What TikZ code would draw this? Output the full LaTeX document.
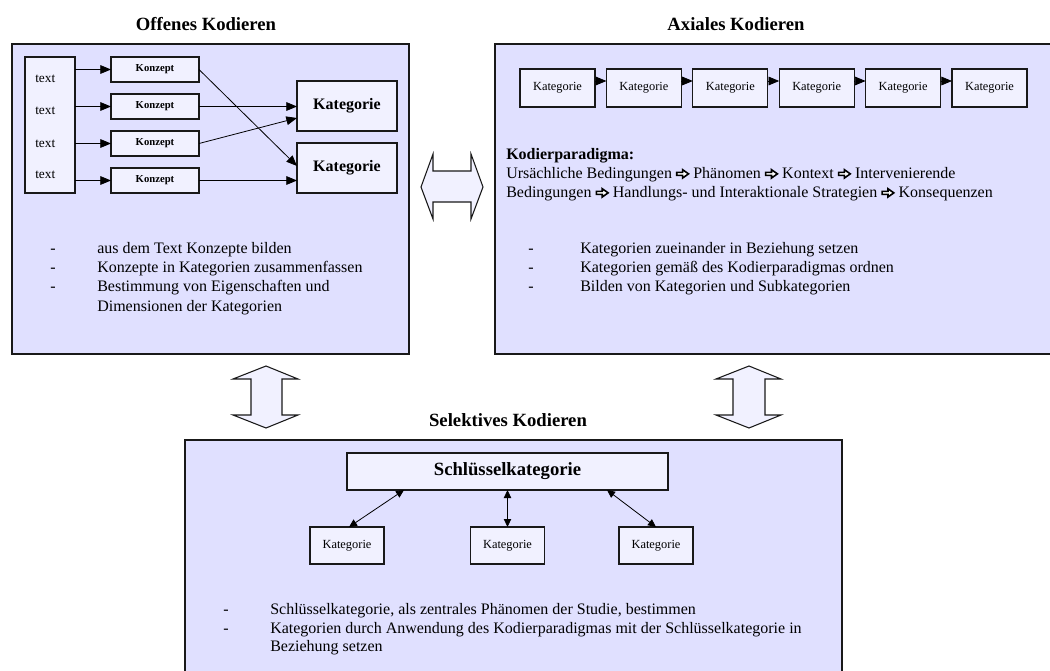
\documentclass[tikz,border=0pt]{standalone}
\usepackage{fontspec}
\setmainfont{Liberation Serif}
\usetikzlibrary{arrows.meta,calc}
\definecolor{panelfill}{RGB}{224,224,255}
\definecolor{boxfill}{RGB}{241,241,255}
\definecolor{linec}{RGB}{25,25,25}
\newsavebox\arrbox
\newcommand{\parr}{\usebox\arrbox}
\begin{document}
\sbox\arrbox{\begin{pgfpicture}%
  \pgfsetlinewidth{1.2pt}\pgfsetmiterjoin
  \pgfpathmoveto{\pgfpoint{0.6pt}{2.0pt}}%
  \pgfpathlineto{\pgfpoint{5.0pt}{2.0pt}}%
  \pgfpathlineto{\pgfpoint{5.0pt}{0.0pt}}%
  \pgfpathlineto{\pgfpoint{9.4pt}{3.1pt}}%
  \pgfpathlineto{\pgfpoint{5.0pt}{6.2pt}}%
  \pgfpathlineto{\pgfpoint{5.0pt}{4.2pt}}%
  \pgfpathlineto{\pgfpoint{0.6pt}{4.2pt}}%
  \pgfpathclose
  \pgfsetfillcolor{white}\pgfsetstrokecolor{black}%
  \pgfusepath{fill,stroke}%
  \pgfsetbaseline{0pt}%
\end{pgfpicture}}%
\begin{tikzpicture}[x=0.75pt,y=-0.75pt,
  panel/.style={draw=linec,line width=1.1pt,fill=panelfill,inner sep=0pt,outer sep=0pt},
  box/.style={draw=linec,line width=0.8pt,fill=boxfill,inner sep=0pt,outer sep=0pt,text=black},
  title/.style={font=\fontsize{14}{16}\selectfont\bfseries},
  bul/.style={anchor=base west,inner sep=0pt,font=\fontsize{12}{14}\selectfont},
  txt/.style={anchor=base west,inner sep=0pt,font=\fontsize{10}{12}\selectfont},
  arr/.style={-{Triangle[length=8pt,width=6.5pt]},line width=0.6pt,draw=black},
  darr/.style={{Triangle[length=6pt,width=5.5pt]}-{Triangle[length=6pt,width=5.5pt]},line width=0.6pt,draw=black},
  bigarrow/.style={draw=linec,line width=0.8pt,fill=boxfill,line join=miter}
]
\useasboundingbox (0,0) rectangle (1050,671);

% ---------- panels ----------
\node[panel,minimum width={397*0.75pt},minimum height={310*0.75pt}] (P1) at (210.5,199) {};
\node[panel,minimum width={562*0.75pt},minimum height={310*0.75pt}] (P2) at (776,199) {};
\node[panel,minimum width={657*0.75pt},minimum height={250*0.75pt}] (P3) at (513.5,565) {};

% ---------- titles ----------
\node[title] (T1) at (206,24) {Offenes Kodieren};
\node[title] (T2) at (736,24) {Axiales Kodieren};
\node[title] (T3) at (508,420) {Selektives Kodieren};

% ---------- left panel ----------
\node[box,minimum width={50*0.75pt},minimum height={136*0.75pt}] (tc) at (50,125) {};
\node[txt] (t1) at (35,82) {text};
\node[txt] (t2) at (35,114) {text};
\node[txt] (t3) at (35,147) {text};
\node[txt] (t4) at (35,178) {text};

\foreach \i/\y in {1/69.5,2/106.5,3/143.5,4/180.5}{
  \node[box,minimum width={88*0.75pt},minimum height={25*0.75pt},font=\fontsize{8}{9}\selectfont\bfseries] (k\i) at (155,\y) {Konzept};
}
\node[box,minimum width={100*0.75pt},minimum height={50*0.75pt},font=\fontsize{12}{14}\selectfont\bfseries] (K1) at (347,106) {Kategorie};
\node[box,minimum width={100*0.75pt},minimum height={50*0.75pt},font=\fontsize{12}{14}\selectfont\bfseries] (K2) at (347,168) {Kategorie};

\foreach \i in {1,2,3,4}{
  \draw[arr] (tc.east |- k\i.west) -- (k\i.west);
}
\draw[arr] (k1.east) -- ([yshift=1.5pt]K2.west);
\draw[arr] (k2.east) -- (k2.east -| K1.west);
\draw[arr] (k3.east) -- ([yshift=-9pt]K1.west);
\draw[arr] (k4.east) -- (k4.east -| K2.west);

\node[bul] (ld1) at (50,253) {-};
\node[bul] (ld2) at (50,272) {-};
\node[bul] (ld3) at (50,291) {-};
\node[bul] (lt1) at (97,253) {aus dem Text Konzepte bilden};
\node[bul] (lt2) at (97,272) {Konzepte in Kategorien zusammenfassen};
\node[bul] (lt3) at (97,291) {Bestimmung von Eigenschaften und};
\node[bul] (lt4) at (97,311) {Dimensionen der Kategorien};

% ---------- right panel ----------
\foreach \i/\x in {1/557.5,2/643.9,3/730.3,4/816.7,5/903.1,6/989.5}{
  \node[box,minimum width={75*0.75pt},minimum height={38*0.75pt},font=\fontsize{9.3}{11}\selectfont] (c\i) at (\x,88) {Kategorie};
}
\foreach \i/\j in {1/2,2/3,3/4,4/5,5/6}{
  \draw[arr] ($(c\i.north east)+(0,12)$) -- ($(c\j.north west)+(0,12)$);
}
\node[bul,font=\fontsize{12}{14}\selectfont\bfseries] (kp) at (506,159) {Kodierparadigma:};
\node[bul] (kp1) at (506,178) {Ursächliche Bedingungen \parr{} Phänomen \parr{} Kontext \parr{} Intervenierende};
\node[bul] (kp2) at (506,197) {Bedingungen \parr{} Handlungs- und Interaktionale Strategien \parr{} Konsequenzen};

\node[bul] (rd1) at (528,253) {-};
\node[bul] (rd2) at (528,272) {-};
\node[bul] (rd3) at (528,291) {-};
\node[bul] (rt1) at (580,253) {Kategorien zueinander in Beziehung setzen};
\node[bul] (rt2) at (580,272) {Kategorien gemäß des Kodierparadigmas ordnen};
\node[bul] (rt3) at (580,291) {Bilden von Kategorien und Subkategorien};

% ---------- bottom panel ----------
\node[box,minimum width={321*0.75pt},minimum height={37*0.75pt},font=\fontsize{14}{16}\selectfont\bfseries] (S) at (507.5,471.5) {Schlüsselkategorie};
\node[box,minimum width={74*0.75pt},minimum height={37*0.75pt},font=\fontsize{9.3}{11}\selectfont] (b1) at (347,545.5) {Kategorie};
\node[box,minimum width={74*0.75pt},minimum height={37*0.75pt},font=\fontsize{9.3}{11}\selectfont] (b2) at (507.5,545.5) {Kategorie};
\node[box,minimum width={74*0.75pt},minimum height={37*0.75pt},font=\fontsize{9.3}{11}\selectfont] (b3) at (656,545.5) {Kategorie};
\draw[darr] ($(S.south west)+(57,0)$) -- ($(b1.north)+(2,0)$);
\draw[darr] (S.south) -- (b2.north);
\draw[darr] ($(S.south west)+(260,0)$) -- (b3.north);

\node[bul] (bd1) at (223,614) {-};
\node[bul] (bd2) at (223,633) {-};
\node[bul] (bt1) at (270,614) {Schlüsselkategorie, als zentrales Phänomen der Studie, bestimmen};
\node[bul] (bt2) at (270,633) {Kategorien durch Anwendung des Kodierparadigmas mit der Schlüsselkategorie in};
\node[bul] (bt3) at (270,651) {Beziehung setzen};

% ---------- big double arrows ----------
\draw[bigarrow] (421,187) -- (433,154) -- (433,171) -- (471,171) -- (471,154) -- (483,187)
  -- (471,219) -- (471,202) -- (433,202) -- (433,219) -- cycle;
\draw[bigarrow] (266,366) -- (298,379) -- (282,379) -- (282,415) -- (298,415) -- (266,428)
  -- (233,415) -- (251,415) -- (251,379) -- (233,379) -- cycle;
\draw[bigarrow] (749,366) -- (781,379) -- (765,379) -- (765,415) -- (781,415) -- (749,428)
  -- (716,415) -- (733,415) -- (733,379) -- (716,379) -- cycle;
\end{tikzpicture}
\end{document}
